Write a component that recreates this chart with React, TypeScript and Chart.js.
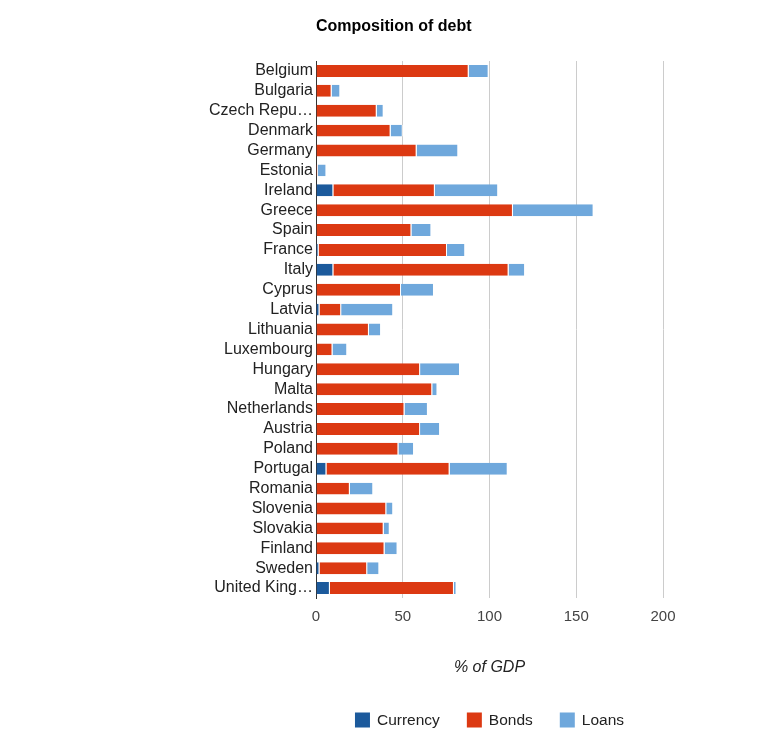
import React, { useEffect, useRef } from "react";
import { Chart, registerables } from "chart.js";

Chart.register(...registerables);

const TITLE = "Composition of debt";
const AXIS_TITLE = "% of GDP";

const countries = [
  "Belgium", "Bulgaria", "Czech Repu…", "Denmark", "Germany", "Estonia", "Ireland",
  "Greece", "Spain", "France", "Italy", "Cyprus", "Latvia", "Lithuania", "Luxembourg",
  "Hungary", "Malta", "Netherlands", "Austria", "Poland", "Portugal", "Romania",
  "Slovenia", "Slovakia", "Finland", "Sweden", "United King…",
];

const currency = [0, 0, 0, 0, 0, 0, 10, 0, 0, 1.5, 10, 0, 2, 0, 0, 0, 0, 0, 0, 0, 6, 0, 0, 0, 0, 2, 8];
const bonds = [88, 9, 35, 43, 58, 1, 58.5, 113.5, 55, 74, 101, 49, 12.5, 30.5, 9.5, 60, 67, 51, 60, 47.5, 71, 19.5, 40.5, 39, 39.5, 27.5, 71.5];
const loans = [11.5, 5, 4, 7, 24, 5, 36.5, 46.5, 11.5, 10.5, 9.5, 19, 30, 7, 8.5, 23, 3, 13.5, 11.5, 9, 33.5, 13.5, 4, 3.5, 7.5, 7, 1.5];

const xTicks = [0, 50, 100, 150, 200];

const seriesNames = ["Currency", "Bonds", "Loans"];
const seriesColors = ["#1c5a9c", "#dc3912", "#6fa8dc"];

const FONT = '"Liberation Sans", Arial, sans-serif';

// Draws the title, the x-axis caption and the legend, all aligned to the plot area.
const decorations = {
  id: "decorations",
  afterDraw(chart: any) {
    const { ctx, chartArea } = chart;
    const cx = (chartArea.left + chartArea.right) / 2;
    ctx.save();

    ctx.fillStyle = "#000";
    ctx.font = `bold 16px ${FONT}`;
    ctx.textAlign = "left";
    ctx.textBaseline = "middle";
    ctx.fillText(TITLE, chartArea.left, chartArea.top - 34);

    ctx.fillStyle = "#222";
    ctx.font = `italic 16px ${FONT}`;
    ctx.textAlign = "center";
    ctx.fillText(AXIS_TITLE, cx, chartArea.bottom + 70);

    ctx.font = `15.5px ${FONT}`;
    const box = 15;
    const gapText = 7;
    const gapItem = 27;
    const widths = seriesNames.map((n) => box + gapText + ctx.measureText(n).width);
    const total = widths.reduce((a, b) => a + b, 0) + gapItem * (seriesNames.length - 1);
    let x = cx - total / 2;
    const y = chartArea.bottom + 122;
    ctx.textAlign = "left";
    seriesNames.forEach((n, i) => {
      ctx.fillStyle = seriesColors[i];
      ctx.fillRect(x, y - box / 2, box, box);
      ctx.fillStyle = "#222";
      ctx.fillText(n, x + box + gapText, y + 1);
      x += widths[i] + gapItem;
    });

    ctx.restore();
  },
};

export default function App() {
  const canvasRef = useRef<HTMLCanvasElement | null>(null);

  useEffect(() => {
    if (!canvasRef.current) return;
    const values = [currency, bonds, loans];
    const chart = new Chart(canvasRef.current, {
      type: "bar",
      data: {
        labels: countries,
        datasets: seriesNames.map((name, i) => ({
          label: name,
          data: values[i],
          backgroundColor: seriesColors[i],
          borderColor: "#ffffff",
          borderWidth: { right: 1, left: 0, top: 0, bottom: 0 },
          borderSkipped: false,
          categoryPercentage: 0.8,
          barPercentage: 0.75,
        })),
      },
      options: {
        indexAxis: "y",
        animation: false,
        responsive: true,
        maintainAspectRatio: false,
        layout: { padding: { top: 53, right: 96, bottom: 72, left: 0 } },
        plugins: {
          legend: { display: false },
          title: { display: false },
          tooltip: { enabled: false },
        },
        scales: {
          x: {
            stacked: true,
            min: 0,
            max: 200,
            afterBuildTicks: (scale: any) => {
              scale.ticks = xTicks.map((v) => ({ value: v }));
            },
            afterFit: (scale: any) => {
              scale.height = 80;
            },
            grid: { color: "#cccccc", lineWidth: 1, drawTicks: false },
            border: { display: false },
            ticks: {
              color: "#444",
              padding: 10,
              font: { family: FONT, size: 15 },
            },
          },
          y: {
            stacked: true,
            afterFit: (scale: any) => {
              scale.width = 308;
            },
            grid: { display: false, drawTicks: false },
            border: { display: true, color: "#333", width: 1 },
            ticks: {
              color: "#222",
              padding: 3,
              autoSkip: false,
              font: { family: FONT, size: 16 },
            },
          },
        },
      },
      plugins: [decorations],
    });
    return () => chart.destroy();
  }, []);

  return (
    <div style={{ position: "relative", width: 751, height: 742 }}>
      <canvas ref={canvasRef} />
    </div>
  );
}
